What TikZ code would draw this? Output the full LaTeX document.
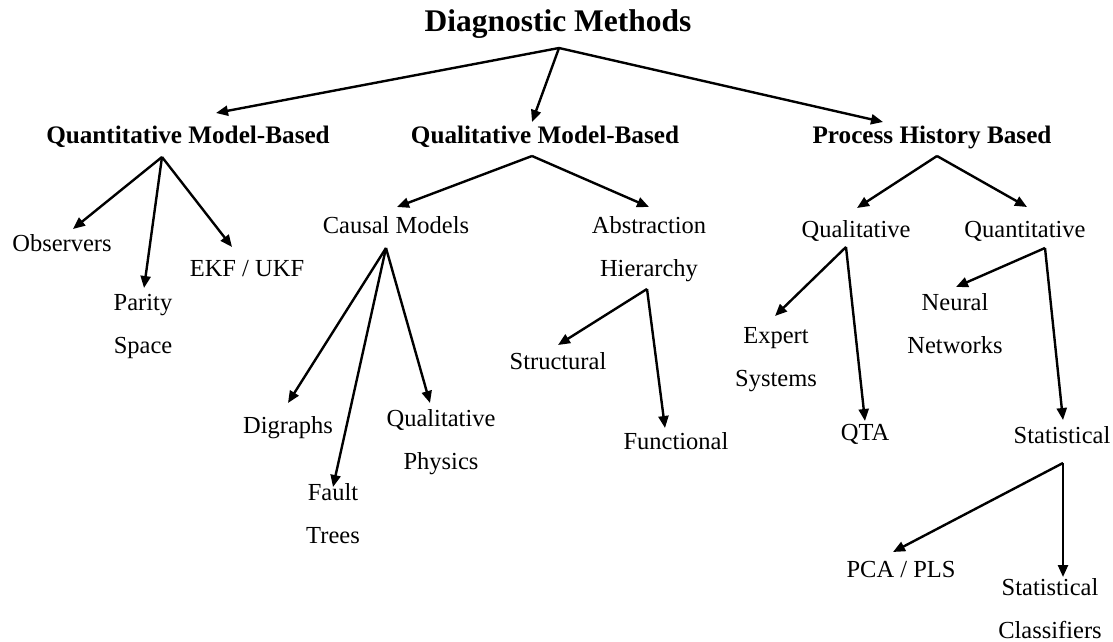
\documentclass[tikz,border=0pt]{standalone}
\usepackage{fontspec}
\setmainfont{Liberation Serif}
\usetikzlibrary{arrows.meta}
\begin{document}
\begin{tikzpicture}[x=1pt,y=-1pt,
  branch/.style={line width=2.4pt,line join=miter,-{Triangle[length=12pt,width=10pt]}},
  heading/.style={anchor=base,inner sep=0pt,font=\fontsize{31.5}{36}\selectfont\bfseries},
  group/.style={anchor=base,inner sep=0pt,font=\fontsize{25.2}{30}\selectfont\bfseries},
  leaf/.style={anchor=base,inner sep=0pt,align=center,font=\fontsize{24.5}{43}\selectfont}]
\useasboundingbox (0,0) rectangle (1113,642);

% ---------- labels (two-line labels sit on the baseline of their last line) ----------
\node[heading] (root) at (558,32) {Diagnostic Methods};

\node[group] (qmb) at (188,143) {Quantitative Model-Based};
\node[group] (lmb) at (545,143) {Qualitative Model-Based};
\node[group] (phb) at (932,143) {Process History Based};

\node[leaf] (obs) at (62,251) {Observers};
\node[leaf] (par) at (143,353) {Parity\\Space};
\node[leaf] (ekf) at (247,276) {EKF / UKF};

\node[leaf] (cau) at (396,233) {Causal Models};
\node[leaf] (abs) at (649,276) {Abstraction\\Hierarchy};
\node[leaf] (dig) at (288,433) {Digraphs};
\node[leaf] (flt) at (333,543) {Fault\\Trees};
\node[leaf] (qph) at (441,469) {Qualitative\\Physics};
\node[leaf] (str) at (558,369) {Structural};
\node[leaf] (fun) at (676,449) {Functional};

\node[leaf] (hql) at (856,237) {Qualitative};
\node[leaf] (hqn) at (1025,237) {Quantitative};
\node[leaf] (exp) at (776,386) {Expert\\Systems};
\node[leaf] (qta) at (865,440) {QTA};
\node[leaf] (neu) at (955,353) {Neural\\Networks};
\node[leaf] (sta) at (1062,443) {Statistical};
\node[leaf] (pca) at (901,577) {PCA / PLS};
\node[leaf] (scl) at (1050,638) {Statistical\\Classifiers};

% ---------- branch points and arrow tips ----------
\coordinate (root-o) at (559,48);
\coordinate (qmb-i) at (216,113);
\coordinate (lmb-i) at (532,122);
\coordinate (phb-i) at (883,122);

\coordinate (qmb-o) at (162,157);
\coordinate (obs-i) at (73,229);
\coordinate (par-i) at (144,288);
\coordinate (ekf-i) at (232,247);

\coordinate (lmb-o) at (532,156);
\coordinate (cau-i) at (397,207);
\coordinate (abs-i) at (649,207);

\coordinate (phb-o) at (937,156);
\coordinate (hql-i) at (857,208);
\coordinate (hqn-i) at (1027,207);

\coordinate (cau-o) at (386,248);
\coordinate (dig-i) at (288,403);
\coordinate (flt-i) at (333,487);
\coordinate (qph-i) at (430,403);

\coordinate (abs-o) at (647,289);
\coordinate (str-i) at (558,345);
\coordinate (fun-i) at (665,428);

\coordinate (hql-o) at (846,247);
\coordinate (exp-i) at (775,316);
\coordinate (qta-i) at (865,421);

\coordinate (hqn-o) at (1045,248);
\coordinate (neu-i) at (956,287);
\coordinate (sta-i) at (1063,420);

\coordinate (sta-o) at (1063,463);
\coordinate (pca-i) at (893,552);
\coordinate (scl-i) at (1063,577);

% ---------- connectors ----------
\foreach \a/\b in {root/qmb,root/lmb,root/phb,
                   qmb/obs,qmb/par,qmb/ekf,
                   lmb/cau,lmb/abs,
                   phb/hql,phb/hqn,
                   cau/dig,cau/flt,cau/qph,
                   abs/str,abs/fun,
                   hql/exp,hql/qta,
                   hqn/neu,hqn/sta,
                   sta/pca,sta/scl}
  \draw[branch] (\a-o) -- (\b-i);
\end{tikzpicture}
\end{document}
